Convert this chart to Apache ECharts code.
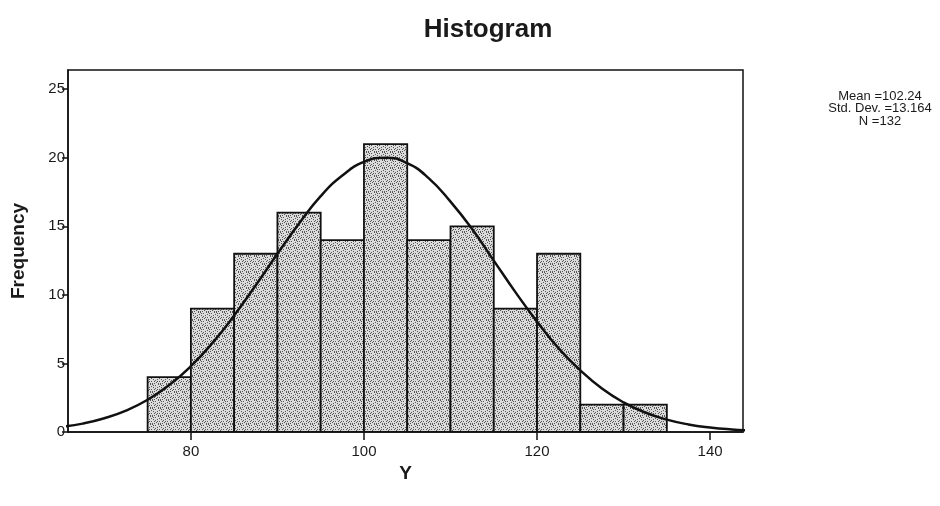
<!DOCTYPE html>
<html>
<head>
<meta charset="utf-8">
<script src="https://cdn.jsdelivr.net/npm/echarts@6/dist/echarts.min.js"></script>
<style>
  html, body { margin: 0; padding: 0; background: #fff; }
  #chart { width: 940px; height: 506px; }
</style>
</head>
<body>
<div id="chart"></div>
<script>
// bins of width 5, left edges
const binStarts = [75, 80, 85, 90, 95, 100, 105, 110, 115, 120, 125, 130];
const binWidth = 5;
const frequencies = [4, 9, 13, 16, 14, 21, 14, 15, 9, 13, 2, 2];

// fitted normal curve
const curveX = [65, 67.5, 70, 72.5, 75, 77.5, 80, 82.5, 85, 87.5, 90, 92.5, 95, 97.5, 100,
  102.5, 105, 107.5, 110, 112.5, 115, 117.5, 120, 122.5, 125, 127.5, 130, 132.5, 135, 137.5, 140, 142.5, 145];
const curveY = [0.37, 0.61, 1.0, 1.56, 2.35, 3.42, 4.8, 6.5, 8.5, 10.7, 13.0, 15.2, 17.2, 18.7, 19.7,
  20.0, 19.6, 18.5, 16.8, 14.8, 12.5, 10.2, 8.05, 6.1, 4.5, 3.17, 2.16, 1.42, 0.9, 0.55, 0.33, 0.19, 0.1];

const xTicks = [80, 100, 120, 140];
const yTicks = [0, 5, 10, 15, 20, 25];
const statLines = ["Mean =102.24", "Std. Dev. =13.164", "N =132"];

// stipple fill for the bars
function makeStipple() {
  const c = document.createElement("canvas");
  c.width = 8;
  c.height = 8;
  const ctx = c.getContext("2d");
  ctx.fillStyle = "#dcdcdc";
  ctx.fillRect(0, 0, 8, 8);
  const dots = [[0, 0], [3, 1], [6, 0], [1, 3], [5, 3], [7, 5], [2, 5], [4, 6], [0, 7], [6, 7],
    [3, 4], [1, 1], [5, 5], [7, 2], [2, 7]];
  ctx.fillStyle = "#555";
  dots.forEach(d => ctx.fillRect(d[0], d[1], 1, 1));
  return c;
}
const stipple = makeStipple();

const font = "'Liberation Sans', Arial, sans-serif";
const chart = echarts.init(document.getElementById("chart"));

chart.setOption({
  backgroundColor: "#fff",
  animation: false,
  title: {
    text: "Histogram",
    left: 483,
    top: 12,
    textAlign: "center",
    textStyle: { fontFamily: font, fontWeight: "bold", fontSize: 26, color: "#1a1a1a" }
  },
  grid: {
    left: 68,
    right: 197,
    top: 70,
    bottom: 74,
    show: true,
    borderColor: "#111",
    borderWidth: 1.5
  },
  xAxis: {
    type: "value",
    min: 65.8,
    max: 143.8,
    name: "Y",
    nameLocation: "middle",
    nameGap: 31,
    nameTextStyle: { fontFamily: font, fontWeight: "bold", fontSize: 19, color: "#1a1a1a" },
    splitLine: { show: false },
    axisLine: { lineStyle: { color: "#111", width: 1.5 } },
    axisTick: { customValues: xTicks, length: 8, lineStyle: { color: "#111", width: 1.5 } },
    axisLabel: { customValues: xTicks, fontFamily: font, fontSize: 15, color: "#1a1a1a", margin: 12 }
  },
  yAxis: {
    type: "value",
    min: 0,
    max: 26.4,
    name: "Frequency",
    nameLocation: "middle",
    nameRotate: 90,
    nameGap: 40,
    nameTextStyle: { fontFamily: font, fontWeight: "bold", fontSize: 19, color: "#1a1a1a" },
    splitLine: { show: false },
    axisLine: { show: true, lineStyle: { color: "#111", width: 1.5 } },
    axisTick: { customValues: yTicks, length: 6, lineStyle: { color: "#111", width: 1.5 } },
    axisLabel: { customValues: yTicks, fontFamily: font, fontSize: 15, color: "#1a1a1a", margin: 3 }
  },
  graphic: statLines.map((t, i) => ({
    type: "text",
    x: 880,
    y: 96 + i * 12.5,
    style: {
      text: t,
      align: "center",
      verticalAlign: "middle",
      fontFamily: font,
      fontSize: 13,
      fill: "#1a1a1a"
    }
  })),
  series: [
    {
      type: "custom",
      clip: true,
      data: binStarts.map((s, i) => [s, s + binWidth, frequencies[i]]),
      renderItem: function (params, api) {
        const p0 = api.coord([api.value(0), 0]);
        const p1 = api.coord([api.value(1), api.value(2)]);
        return {
          type: "rect",
          shape: { x: p0[0], y: p1[1], width: p1[0] - p0[0], height: p0[1] - p1[1] },
          style: {
            fill: { image: stipple, repeat: "repeat" },
            stroke: "#111",
            lineWidth: 1.8
          }
        };
      }
    },
    {
      type: "line",
      data: curveX.map((x, i) => [x, curveY[i]]),
      smooth: true,
      symbol: "none",
      clip: true,
      lineStyle: { color: "#111", width: 2.5 },
      z: 5
    }
  ]
});
</script>
</body>
</html>
